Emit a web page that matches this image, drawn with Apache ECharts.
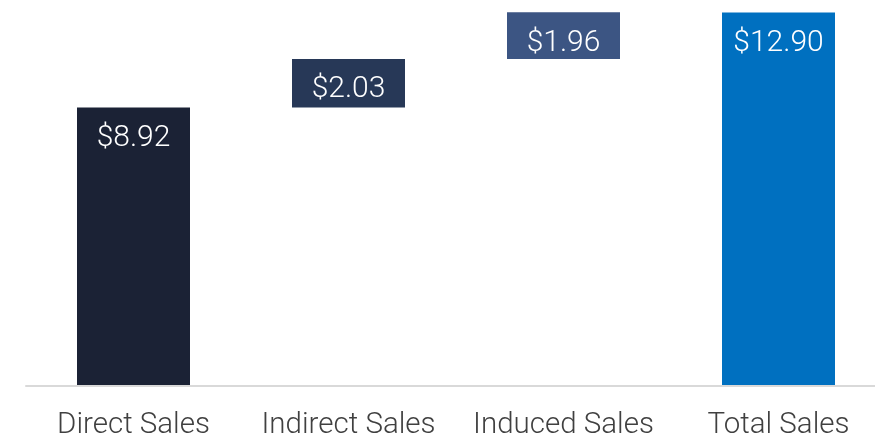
<!DOCTYPE html>
<html>
<head>
<meta charset="utf-8">
<title>Sales waterfall</title>
<script src="https://cdn.jsdelivr.net/npm/echarts@6/dist/echarts.min.js"></script>
<style>
  html, body { margin: 0; padding: 0; background: #fff; }
  #chart { width: 875px; height: 439px; }
</style>
</head>
<body>
<div id="chart"></div>
<script>
  const categories = ['Direct Sales', 'Indirect Sales', 'Induced Sales', 'Total Sales'];
  const values = [8.92, 2.03, 1.96, 12.90];
  const isTotal = [false, false, false, true];
  const barColors = ['#1b2235', '#273857', '#3c5583', '#0070c0'];

  // running tops / bottoms for the waterfall
  let tops = [];
  let bottoms = [];
  let running = 0;
  for (let i = 0; i < values.length; i++) {
    if (isTotal[i]) {
      tops.push(values[i]);
      bottoms.push('-');
    } else {
      bottoms.push(running > 0 ? running : '-');
      running += values[i];
      tops.push(+running.toFixed(2));
    }
  }

  const chart = echarts.init(document.getElementById('chart'));
  chart.setOption({
    animation: false,
    grid: { left: 26, right: -11, top: 0, bottom: 53, outerBoundsMode: 'none', containLabel: false },
    xAxis: {
      type: 'category',
      data: categories,
      z: 10,
      axisTick: { show: false },
      axisLine: { onZero: false, lineStyle: { color: '#d9d9d9', width: 2 } },
      axisLabel: {
        color: '#404040',
        fontFamily: 'Roboto',
        fontWeight: 300,
        fontSize: 29.5,
        margin: 25,
        interval: 0
      }
    },
    yAxis: {
      type: 'value',
      min: -2.75,
      max: 13.42,
      startValue: -2.75,
      show: false,
      splitLine: { show: false }
    },
    series: [{
      name: 'top',
      type: 'bar',
      barWidth: 113,
      barGap: '-100%',
      data: tops.map((v, i) => ({ value: v, itemStyle: { color: barColors[i] } })),
      label: {
        show: true,
        position: 'insideTop',
        distance: 16,
        color: '#ffffff',
        fontFamily: 'Roboto',
        fontWeight: 300,
        fontSize: 30,
        formatter: function (p) {
          return '$' + values[p.dataIndex].toFixed(2);
        }
      }
    }, {
      name: 'cover',
      type: 'bar',
      barWidth: 113,
      barGap: '-100%',
      silent: true,
      itemStyle: { color: '#ffffff' },
      data: bottoms
    }]
  });
</script>
</body>
</html>
